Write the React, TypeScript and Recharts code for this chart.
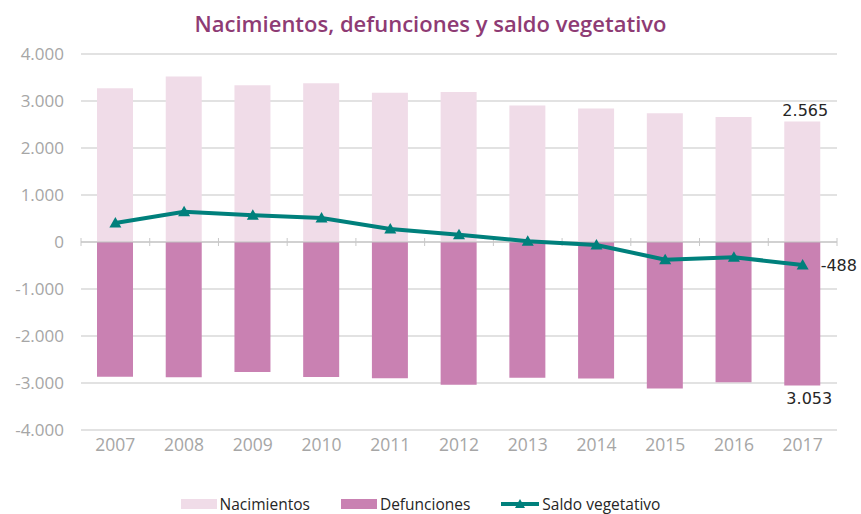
import React from "react";
import {
  ComposedChart,
  Bar,
  Line,
  XAxis,
  YAxis,
  CartesianGrid,
  ReferenceLine,
  Legend,
  LabelList,
} from "recharts";

const years = ["2007", "2008", "2009", "2010", "2011", "2012", "2013", "2014", "2015", "2016", "2017"];
const nacimientos = [3270, 3520, 3335, 3380, 3175, 3190, 2905, 2840, 2740, 2660, 2565];
const defunciones = [2865, 2878, 2765, 2870, 2900, 3035, 2888, 2905, 3115, 2985, 3053];
const saldo = [405, 642, 570, 510, 275, 155, 17, -65, -375, -325, -488];
const yTicks = [-4000, -3000, -2000, -1000, 0, 1000, 2000, 3000, 4000];

const data = years.map((y, i) => ({
  year: y,
  nac: nacimientos[i],
  def: -defunciones[i],
  saldo: saldo[i],
}));

const C_NAC = "#F0DCE8";
const C_DEF = "#C981B2";
const C_LINE = "#00807C";
const C_TITLE = "#8E3B74";
const C_AXIS = "#A6A6A6";
const LAST = years.length - 1;

const fmt = (v: number) => {
  const s = Math.abs(v).toString().replace(/\B(?=(\d{3})+(?!\d))/g, ".");
  return (v < 0 ? "-" : "") + s;
};

const Triangle = (props: any) => {
  const { cx, cy } = props;
  if (cx == null || cy == null) return null;
  return <path d={`M${cx},${cy - 6} L${cx + 6},${cy + 4.5} L${cx - 6},${cy + 4.5} Z`} fill={C_LINE} />;
};

const ZeroLine = (props: any) => {
  const { x1, x2, y1 } = props;
  const n = years.length;
  const step = (x2 - x1) / n;
  const ticks = [];
  for (let i = 0; i <= n; i++) {
    const x = x1 + step * i;
    ticks.push(<line key={i} x1={x} x2={x} y1={y1 - 4} y2={y1 + 4} stroke="#C8C8C8" strokeWidth={1} />);
  }
  return (
    <g>
      <line x1={x1} x2={x2} y1={y1} y2={y1} stroke="#BFBFBF" strokeWidth={1.2} />
      {ticks}
    </g>
  );
};

const NacLabel = (props: any) => {
  const { x, y, width, index, value } = props;
  if (index !== LAST) return null;
  return (
    <text x={x + width / 2 + 3} y={y - 5} textAnchor="middle" fontFamily="DejaVu Sans" fontSize={16} fill="#262626">
      {fmt(value)}
    </text>
  );
};

const DefLabel = (props: any) => {
  const { x, y, width, height, index, value } = props;
  if (index !== LAST) return null;
  const bottom = Math.max(y, y + height);
  return (
    <text x={x + width / 2 + 7} y={bottom + 19} textAnchor="middle" fontFamily="DejaVu Sans" fontSize={16} fill="#262626">
      {fmt(Math.abs(value))}
    </text>
  );
};

const SaldoLabel = (props: any) => {
  const { x, y, index, value } = props;
  if (index !== LAST) return null;
  return (
    <text x={x + 18} y={y + 6} textAnchor="start" fontFamily="DejaVu Sans" fontSize={16} fill="#262626">
      {fmt(value)}
    </text>
  );
};

const LegendContent = () => {
  const items = [
    { label: "Nacimientos", type: "bar", color: C_NAC, w: 36 },
    { label: "Defunciones", type: "bar", color: C_DEF, w: 36 },
    { label: "Saldo vegetativo", type: "line", color: C_LINE, w: 38 },
  ];
  return (
    <div style={{ display: "flex", justifyContent: "center", alignItems: "center", fontFamily: "Open Sans", fontSize: 15.5, color: "#262626" }}>
      {items.map((it, i) => (
        <div key={it.label} style={{ display: "flex", alignItems: "center", marginLeft: i === 0 ? 0 : 31 }}>
          <svg width={it.w} height={12} style={{ marginRight: 3 }}>
            {it.type === "bar" ? (
              <rect x={0} y={1} width={it.w} height={10} fill={it.color} />
            ) : (
              <g>
                <line x1={0} x2={it.w} y1={6} y2={6} stroke={it.color} strokeWidth={4} />
                <path d={`M${it.w / 2},1 L${it.w / 2 + 5},10 L${it.w / 2 - 5},10 Z`} fill={it.color} />
              </g>
            )}
          </svg>
          <span>{it.label}</span>
        </div>
      ))}
    </div>
  );
};

export default function App() {
  return (
    <div style={{ position: "absolute", left: 0, top: 0, width: 861, height: 514, background: "#fff" }}>
      <div
        style={{
          position: "absolute",
          left: 0,
          top: 8,
          width: 861,
          textAlign: "center",
          fontFamily: "Open Sans",
          fontWeight: 600,
          fontSize: 22,
          color: C_TITLE,
          lineHeight: "30px",
        }}
      >
        Nacimientos, defunciones y saldo vegetativo
      </div>
      <ComposedChart
        width={861}
        height={514}
        data={data}
        stackOffset="sign"
        margin={{ top: 54, right: 24, bottom: 54, left: 11 }}
      >
        <CartesianGrid vertical={false} stroke="#D9D9D9" strokeWidth={1.5} />
        <XAxis
          dataKey="year"
          axisLine={false}
          tickLine={false}
          tickSize={0}
          tickMargin={9}
          height={30}
          tick={{ fill: C_AXIS, fontSize: 17.5, fontFamily: "Open Sans" }}
        />
        <YAxis
          domain={[-4000, 4000]}
          ticks={yTicks}
          allowDataOverflow
          axisLine={false}
          tickLine={false}
          tickSize={0}
          tickMargin={17}
          width={70}
          tickFormatter={fmt}
          tick={{ fill: C_AXIS, fontSize: 17, fontFamily: "Open Sans" }}
        />
        <Bar dataKey="nac" name="Nacimientos" stackId="a" fill={C_NAC} barSize={36} isAnimationActive={false}>
          <LabelList dataKey="nac" content={NacLabel} />
        </Bar>
        <Bar dataKey="def" name="Defunciones" stackId="a" fill={C_DEF} barSize={36} isAnimationActive={false}>
          <LabelList dataKey="def" content={DefLabel} />
        </Bar>
        <ReferenceLine y={0} shape={ZeroLine} />
        <Line
          dataKey="saldo"
          name="Saldo vegetativo"
          type="linear"
          stroke={C_LINE}
          strokeWidth={4}
          dot={<Triangle />}
          activeDot={false}
          isAnimationActive={false}
        >
          <LabelList dataKey="saldo" content={SaldoLabel} />
        </Line>
        <Legend
          layout="horizontal"
          verticalAlign="middle"
          align="center"
          content={<LegendContent />}
          wrapperStyle={{ position: "absolute", top: 493, left: -10, width: 861 }}
        />
      </ComposedChart>
    </div>
  );
}
